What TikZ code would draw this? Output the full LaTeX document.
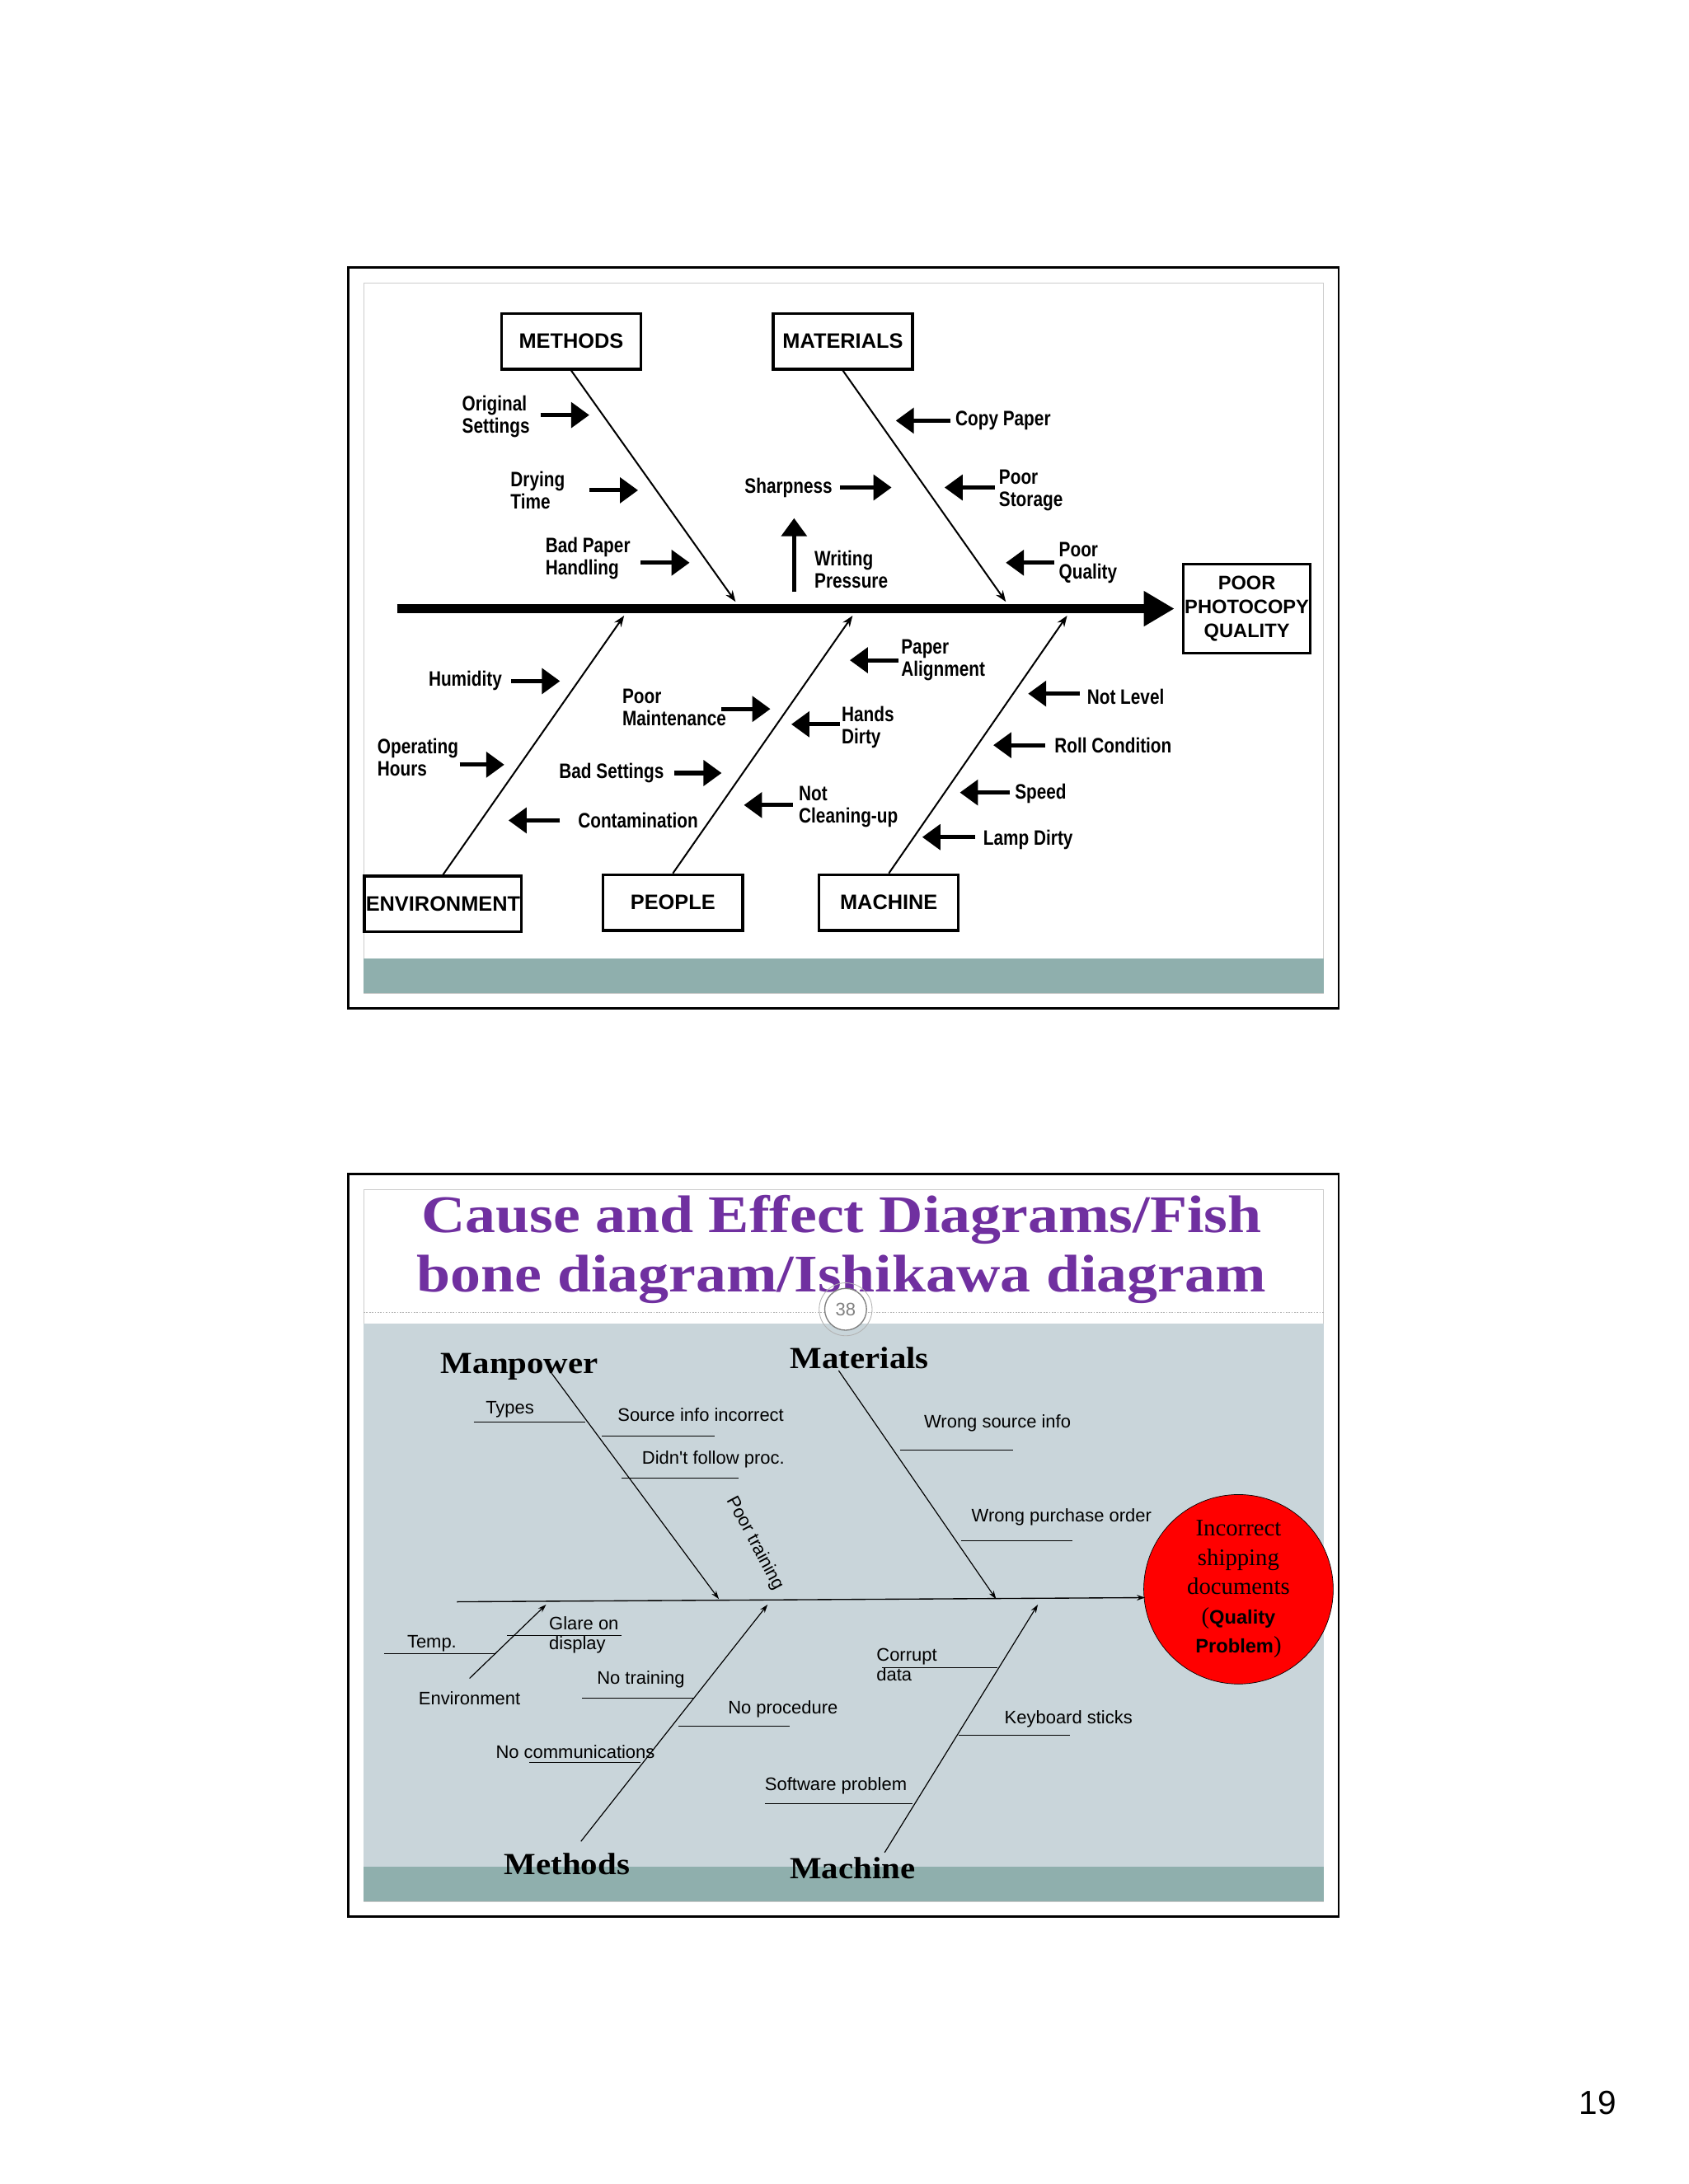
\documentclass[tikz,border=0pt]{standalone}
\usepackage{fontspec}
\setmainfont{Liberation Serif}
\newfontfamily\hv{Liberation Sans}
\newfontfamily\tf{Liberation Sans}
\usetikzlibrary{arrows.meta}
\definecolor{teal1}{HTML}{8FAFAD}
\definecolor{bgb}{HTML}{C9D5DA}
\definecolor{purp}{HTML}{7030A0}
\begin{document}
\begin{tikzpicture}[x=1pt,y=-1pt,
 box/.style={draw,line width=2pt,minimum width=100pt,minimum height=40pt,font=\tf\bfseries\fontsize{15}{16}\selectfont,inner sep=1pt},
 lab/.style={font=\tf\bfseries\fontsize{15}{16}\selectfont,align=left,inner sep=1pt,xscale=0.82},
 bone/.style={line width=1.2pt,-{Stealth[length=8pt,width=6pt]}},
 ca/.style={line width=3pt,-{Triangle[length=13pt,width=18pt]}},
 st/.style={font=\hv\fontsize{13}{14}\selectfont,inner sep=1pt,align=left},
 ul/.style={line width=0.5pt},
 big/.style={font=\bfseries\fontsize{22}{24}\selectfont,inner sep=0pt,xscale=1.1}]
\useasboundingbox (0,0) rectangle (1212,1568);
\fill[white] (0,0) rectangle (1212,1568);
% ---------- top panel
\draw[line width=1.5pt] (250,192) rectangle (961,724);
\draw[gray!40] (261,203) rectangle (950,713);
\fill[teal1] (261,688) rectangle (950,713);
\draw[line width=6pt,-{Triangle[length=22pt,width=24pt]}] (285,437) -- (843,437);
\node[box,minimum width=90pt,minimum height=64pt,align=center,font=\tf\bfseries\fontsize{14}{19}\selectfont] (eff) at (895,437) {POOR\\[-2pt]PHOTOCOPY\\[-2pt]QUALITY};
\node[box] (met) at (410,245) {METHODS};
\node[box] (mat) at (605,245) {MATERIALS};
\node[box,minimum width=107pt] (env) at (318,649) {ENVIRONMENT};
\node[box] (peo) at (483,648) {PEOPLE};
\node[box] (mac) at (638,648) {MACHINE};
\coordinate (m1) at (528,432); \coordinate (m2) at (722,432);
\coordinate (e1) at (448,442); \coordinate (p1) at (612,442); \coordinate (c1) at (766,442);
\draw[bone] (met.south) -- (m1);
\draw[bone] (mat.south) -- (m2);
\draw[bone] (env.north) -- (e1);
\draw[bone] (peo.north) -- (p1);
\draw[bone] (mac.north) -- (c1);
% causes
\node[lab] (t1) at (356,299) {Original\\Settings};
\draw[ca] (388,298) -- (423,298);
\node[lab] (t2) at (386,352) {Drying\\Time};
\draw[ca] (423,352) -- (458,352);
\node[lab] (t3) at (422,401) {Bad Paper\\Handling};
\draw[ca] (460,404) -- (495,404);
\node[lab] (t4) at (720,302) {Copy Paper};
\draw[ca] (682,302) -- (643,302);
\node[lab] (t5) at (740,352) {Poor\\Storage};
\draw[ca] (714,350) -- (678,350);
\node[lab] (t6) at (566,350) {Sharpness};
\draw[ca] (603,350) -- (640,350);
\node[lab] (t7) at (611,409) {Writing\\Pressure};
\draw[ca] (570,425) -- (570,372);
\node[lab] (t8) at (781,404) {Poor\\Quality};
\draw[ca] (757,404) -- (722,404);
\node[lab] (t9) at (334,489) {Humidity};
\draw[ca] (367,489) -- (402,489);
\node[lab] (t10) at (300,544) {Operating\\Hours};
\draw[ca] (330,549) -- (362,549);
\node[lab] (t11) at (484,508) {Poor\\Maintenance};
\draw[ca] (518,509) -- (553,509);
\node[lab] (t12) at (439,555) {Bad Settings};
\draw[ca] (484,555) -- (518,555);
\node[lab] (t13) at (458,589) {Contamination};
\draw[ca] (402,589) -- (365,589);
\node[lab] (t14) at (677,474) {Paper\\Alignment};
\draw[ca] (645,474) -- (610,474);
\node[lab] (t15) at (623,522) {Hands\\Dirty};
\draw[ca] (603,520) -- (568,520);
\node[lab] (t16) at (609,579) {Not\\Cleaning-up};
\draw[ca] (569,578) -- (534,578);
\node[lab] (t17) at (808,500) {Not Level};
\draw[ca] (775,498) -- (738,498);
\node[lab] (t18) at (799,535) {Roll Condition};
\draw[ca] (750,535) -- (713,535);
\node[lab] (t19) at (747,570) {Speed};
\draw[ca] (725,569) -- (689,569);
\node[lab] (t20) at (738,603) {Lamp Dirty};
\draw[ca] (700,601) -- (662,601);
% ---------- bottom panel
\draw[line width=1.5pt] (250,843) rectangle (961,1376);
\draw[gray!40] (261,854) rectangle (950,1365);
\fill[bgb] (261,950) rectangle (950,1340);
\fill[teal1] (261,1340) rectangle (950,1365);
\draw[gray!60,dash pattern=on 1pt off 1pt] (261,942) -- (950,942);
\node[font=\bfseries\fontsize{38}{43}\selectfont,text=purp,align=center,xscale=1.15] (title) at (604,897) {Cause and Effect Diagrams/Fish\\bone diagram/Ishikawa diagram};
\node[circle,draw=gray,fill=white,line width=0.8pt,minimum size=30pt,inner sep=0pt,text=gray,font=\hv\fontsize{13}{14}\selectfont] (num) at (607,940) {38};
\draw[gray!60,line width=0.5pt] (607,940) circle (19pt);
\node[circle,draw,fill=red,minimum size=136pt,inner sep=0pt,align=center,font=\fontsize{17}{21}\selectfont] (prob) at (889,1141) {Incorrect\\shipping\\documents\\({\hv\bfseries\fontsize{14}{17}\selectfont Quality}\\{\hv\bfseries\fontsize{14}{17}\selectfont Problem})};
\coordinate (sp) at (822,1147);
\draw[line width=0.8pt,-{Stealth[length=6pt,width=4pt]}] (328,1150) -- (sp);
\node[big] (mp) at (373,981) {Manpower};
\node[big] (ma) at (617,975) {Materials};
\node[big] (me) at (407,1338) {Methods};
\node[big] (mc) at (612,1341) {Machine};
\coordinate (b1) at (516,1148); \coordinate (b2) at (715,1148);
\coordinate (b3) at (551,1152); \coordinate (b4) at (745,1152);
\coordinate (b5a) at (337,1205); \coordinate (b5) at (392,1152);
\tikzset{sb/.style={line width=0.7pt,-{Stealth[length=6pt,width=4pt]}}}
\draw[sb] (396,986) -- (b1);
\draw[sb] (602,984) -- (b2);
\draw[sb] (417,1322) -- (b3);
\draw[sb] (635,1330) -- (b4);
\draw[sb] (b5a) -- (b5);
\node[st] (s1) at (366,1012) {Types};
\draw[ul] (340,1021) -- (420,1021);
\node[st] (s2) at (503,1016) {Source info incorrect};
\draw[ul] (432,1031) -- (513,1031);
\node[st] (s3) at (512,1048) {Didn't follow proc.};
\draw[ul] (446,1061) -- (530,1061);
\node[st,rotate=-62] (s4) at (542,1108) {Poor training};
\node[st] (s5) at (716,1022) {Wrong source info};
\draw[ul] (646,1041) -- (727,1041);
\node[st] (s6) at (762,1089) {Wrong purchase order};
\draw[ul] (690,1106) -- (770,1106);
\node[st] (s7) at (310,1180) {Temp.};
\draw[ul] (276,1187) -- (356,1187);
\node[st,anchor=west] (s8) at (393,1174) {Glare on\\display};
\draw[ul] (364,1174) -- (446,1174);
\node[st] (s9) at (337,1219) {Environment};
\node[st] (s10) at (460,1206) {No training};
\draw[ul] (418,1219) -- (498,1219);
\node[st] (s11) at (562,1227) {No procedure};
\draw[ul] (487,1239) -- (567,1239);
\node[st] (s12) at (413,1258) {No communications};
\draw[ul] (380,1265) -- (460,1265);
\node[st,anchor=west] (s13) at (628,1195) {Corrupt\\data};
\draw[ul] (633,1197) -- (716,1197);
\node[st] (s14) at (767,1234) {Keyboard sticks};
\draw[ul] (688,1246) -- (768,1246);
\node[st] (s15) at (600,1282) {Software problem};
\draw[ul] (549,1295) -- (655,1295);
\node[font=\hv\fontsize{24}{26}\selectfont] (pg) at (1147,1510) {19};
\end{tikzpicture}
\end{document}
